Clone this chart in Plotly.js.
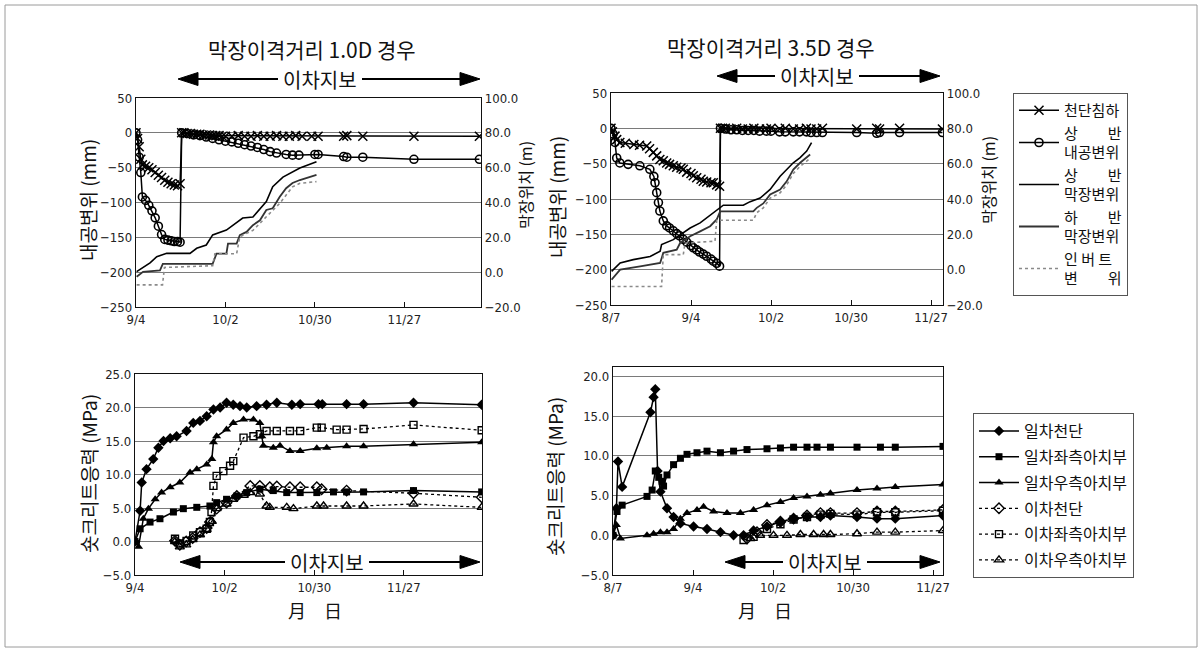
<!DOCTYPE html>
<html>
<head>
<meta charset="utf-8">
<script src="https://cdn.plot.ly/plotly-3.0.1.min.js"></script>
<style>html,body{margin:0;padding:0;background:#fff;}#chart{width:1203px;height:653px;}</style>
</head>
<body>
<div id="chart"></div>
<script>
// ---------------- DATA ----------------
// x values = days since first date of each panel (TL/BL: 9/4, TR/BR: 8/7)
const tlTickVals = [0, 28, 56, 84];
const tlTickText = ['9/4', '10/2', '10/30', '11/27'];
const trTickVals = [0, 28, 56, 84, 112];
const trTickText = ['8/7', '9/4', '10/2', '10/30', '11/27'];

const topNames = ['천단침하', '상　　반<br>내공변위', '상　　반<br>막장변위', '하　　반<br>막장변위', '인 버 트<br>변　　위'];
const botNames = ['일차천단', '일차좌측아치부', '일차우측아치부', '이차천단', '이차좌측아치부', '이차우측아치부'];

// Top-left (1.0D): convergence (mm) and face position (m)
const tlSettleDays = [0,0.5,1,1.5,2,3,4,5,6,7,8,9,10,11,12,13,13.8,14.3,15,16,17,18,19,20,21,22,23,24,25,26,27,28,30,32,34,36,38,40,42,44,46,48,50,52,55,57,65,66,71,87,107.5];
const tlSettle = [0,-8,-20,-38,-46,-48,-50,-53,-57,-61,-64,-68,-71,-73,-75,-76,-73,0,0,-1,-1,-2,-2,-2,-3,-3,-3,-4,-4,-4,-5,-5,-5,-4,-5,-5,-4,-5,-5,-4,-5,-5,-4,-5,-5,-5,-5,-4,-5,-5,-5];
const tlConvDays = [0,0.5,1,1.5,2,3,4,5,6,7,8,9,10,11,12,13,13.8,14.3,16,18,20,22,24,26,28,30,32,34,36,38,40,42,44,47,49,51,56,57,65,66,71,87,107.5];
const tlConv = [0,-10,-35,-57,-92,-97,-104,-112,-122,-134,-146,-153,-154,-155,-156,-156,-157,0,-1,-3,-4,-6,-8,-10,-12,-13,-15,-17,-19,-21,-24,-27,-29,-31,-32,-32,-31,-31,-34,-35,-35,-38,-38];
const tlFaceUpDays = [0.2,4.4,6.5,9.6,16.9,19,22,24,28.3,30.3,33.4,36.6,40.8,42.8,46,51.3,56.5];
const tlFaceUp = [0.3,5.3,8.9,10.8,10.8,13.7,15.6,21.4,24.2,27.1,31.1,31.7,40.5,49.1,54.6,59.8,63.4];
const tlFaceLowDays = [0.2,2.2,7.5,8.4,24,24.7,25.2,28.3,28.8,31.5,32.5,34.6,36.6,38.8,40.8,42.8,45,47,49,51.3,56.5];
const tlFaceLow = [-2.6,0.2,1.0,4.8,4.8,8.6,10.6,10.6,16.4,16.4,21.2,23.1,27,29.8,35.7,36.7,43.3,48.2,51.2,52.9,55.8];
const tlInvertDays = [0.2,8.3,8.9,24,24.7,31.5,32.5,36.6,40.8,45,49,51.3,56.5];
const tlInvert = [-7.3,-7.3,2.7,3.7,10.6,10.6,20.4,24,31.8,39.5,49,51,52];

// Top-right (3.5D)
const trSettleDays = [0,0.5,1.4,2,3.1,5,8,10,12.5,13.5,14.8,16,17.1,18.3,19.5,20.5,21.8,23,24.5,25.3,26.5,28,28.8,30,31.5,32.3,33.5,35,35.8,37,38,38.3,39,40,42,44,46,48,50,52,54.4,56,59,61,63.8,66,68.4,70,72,74,86,93,94,101,116];
const trSettle = [0,-5,-11,-16,-20,-21,-23,-24,-25,-29,-34,-39,-44,-46,-49,-51,-53,-55,-56,-58,-62,-64,-67,-70,-72,-75,-76,-77,-77,-80,-82,0,0,0,-1,0,-1,-1,0,-1,-1,0,-1,0,-1,-1,0,-1,-1,0,-1,0,-1,0,-1];
const trConvDays = [0,0.7,1.4,2,3.1,6,10.1,13.6,15,15.4,16,16.6,17.1,18.3,19.5,20.5,21.8,23,24,25.3,26.5,28,28.8,30,31,32.3,33.5,35,35.8,37,38,38.3,40,42,44,46,48,50,52,54.4,56,59,61,63.8,66,68.4,70,72,74,86,93,94,101,116];
const trConv = [0,-8,-20,-42,-49,-51,-53,-58,-68,-77,-91,-105,-117,-131,-138,-141,-145,-149,-152,-157,-161,-166,-169,-172,-175,-178,-181,-185,-188,-191,-195,0,-1,-2,-2,-3,-3,-3,-4,-4,-4,-5,-5,-5,-5,-5,-6,-6,-6,-6,-7,-6,-6,-6];
const trFaceUpDays = [0.2,3.2,7.8,13.7,17.2,17.7,21.8,25.3,27.7,31.2,35.8,37,39.3,46.3,48.7,52.2,55.7,59.2,61.5,63.8,66.2,68.5,70.2];
const trFaceUp = [-1,3.8,5.7,7.5,10.4,14.2,17,20.8,23.6,26.5,32.2,34,36.5,36.5,38.5,40.5,45.4,52.9,56.7,60.5,63.4,67.1,71.9];
const trFaceLowDays = [0.2,3.2,10.2,17.2,18.3,23,24.2,27.7,31.2,34.7,37,38.2,39.3,49.8,51,53.3,55.7,59.2,61.5,63.8,66.2,68.5,69.7];
const trFaceLow = [-5.7,0,1.9,3.8,9.5,11.3,15.1,18.9,21.7,24.6,28.4,33,33,33,35,37.5,42.6,45.4,50,56.7,60.5,63.4,65.2];
const trInvertDays = [0.2,17.7,18.3,25.3,25.9,36.4,37,49.8,51,53.3,55.7,59.2,61.5,63.8,66.2,68.5,69.7];
const trInvert = [-9.5,-9.5,8.5,8.5,15.1,16.1,28,28,32.2,35,40.5,43.5,48,54.5,58.5,61.5,63];

// Bottom-left (1.0D) shotcrete stress (MPa)
const bl1CrownDays = [0,1.6,2.1,3.6,5.7,7.3,8.9,11,13,16.1,18.2,20.3,22.4,24.5,26.6,28.6,30.7,32.8,34.9,38,41.1,44.3,49,51.6,57.3,58.5,66.1,71.4,87,108.3];
const bl1Crown = [0,4.6,8.8,10.8,12.3,14,15,15.4,15.7,16.5,17.7,18,18.7,19.7,20,20.7,20.4,20.2,20,20.2,20.4,20.7,20.4,20.5,20.5,20.5,20.5,20.5,20.7,20.4];
const bl1LeftDays = [0,1.6,4.7,7.8,12,15.1,19.3,23.4,25.5,28.6,31.8,34.9,39,43.2,47.4,51.6,56.8,62,66.1,71.4,87,108.3];
const bl1Left = [0,1.9,2.9,3.4,4.4,4.9,5.1,5.3,5.8,6.3,6.8,7.3,7.8,7.6,7.3,7.3,7.3,7.4,7.4,7.4,7.6,7.4];
const bl1RightDays = [0,1.1,2.6,4.2,6.3,8.3,11,14,17.2,19.3,22.4,24,24.5,25.5,28.6,30.7,33.9,37,39,39.6,40.1,43.2,45.3,48.4,51.6,56.8,59.9,66.1,71.4,87,108.3];
const bl1Right = [0,-0.8,3.4,4.9,6.3,7.3,8.1,8.8,10.3,10.8,11.5,12.3,14.8,15.7,16.7,17.7,18.2,18.2,17.7,15.7,14.3,14,14.3,13.5,13.5,13.9,14,14.2,14.2,14.5,14.8];
const bl2CrownDays = [12.5,14,16,18,20.3,22.4,23.4,25.5,28.6,31.8,36,39,42.1,44.3,48.4,51.6,56.8,58.3,66.1,87,108.3];
const bl2Crown = [0.1,-0.5,0,0.5,1.4,2,2.9,4.9,5.8,6.8,8.3,8.3,8.1,8.2,8.1,8.1,8.1,7.8,7.6,7.2,6.6];
const bl2LeftDays = [12.5,14.1,16.1,18.2,20.3,22.4,23.4,23.9,24.5,25.5,27.6,29.7,30.7,33.9,37,39,41.1,44.3,48.4,51.6,56.8,58.3,63,66.1,71.4,87,108.3];
const bl2Left = [0.4,-0.3,0.1,0.9,1.4,1.9,2.9,4.4,8.3,9.8,10.5,11.3,12,15.5,15.7,16,16.5,16.5,16.5,16.5,17,17,16.7,16.7,16.8,17.4,16.6];
const bl2RightDays = [12.5,14,16,18,20.3,22.4,24,25.5,28.6,30.7,34,36,39,41.1,42.1,47.4,49.5,56.8,58.9,66.1,71.4,87,108.3];
const bl2Right = [0,-0.8,-0.5,0.3,1,1.8,3,4.9,5.6,6.3,6.9,7.3,7.1,5.3,5.1,5.1,4.9,5.3,5.3,5.3,5.3,5.6,5.1];

// Bottom-right (3.5D)
const br1CrownDays = [0,1.2,1.75,3.2,13.1,14.2,14.8,15.6,16.6,18.9,21.2,23.6,28.2,32.9,37.6,42.2,45.7,49.2,53.9,58.6,63.2,67.9,72.6,76.1,85.4,92.4,98.8,115.5];
const br1Crown = [0,3.4,9.3,6.1,15.5,17.4,18.4,8.1,5.5,3.4,2.3,1.5,1.1,0.8,0.4,0,0,0.6,1.1,1.7,2.1,2.3,2.3,2.5,2.3,2.1,2.1,2.5];
const br1LeftDays = [0,1.4,3.2,11.9,13.7,14.8,16,17.2,17.7,18.9,21.2,23.6,25.9,29.4,32.9,37.6,42.2,46.9,53.9,58.6,63.2,67.9,71.4,76.1,85.4,93.6,98.8,115.5];
const br1Left = [0,3,3.8,4.9,5.7,8.1,7.3,6.8,6.2,7.6,8.9,9.7,10.2,10.4,10.6,10.4,10.6,10.8,10.9,11,11.1,11.1,11.1,11.1,11.1,11.1,11.1,11.2];
const br1RightDays = [0,1.2,2.6,11.9,14.2,16.6,18.9,21.2,23.6,25.9,29.4,31.7,35.2,39.9,44.6,49.2,53.9,58.6,63.2,67.9,72.6,76.1,85.4,92.4,98.8,115.5];
const br1Right = [0,1.3,-0.4,0,0.2,0.4,0.4,0.8,2.1,2.8,3.2,3.6,3,2.8,2.8,3.2,3.8,4.2,4.7,4.9,5.1,5.3,5.7,5.9,6.1,6.4];
const br2CrownDays = [46.9,50.4,53.9,58.6,63.2,67.9,72.6,76.1,85.4,92.4,98.8,115.5];
const br2Crown = [-0.4,0.4,1.3,1.7,2.1,2.5,2.8,2.8,2.8,3,3,3.2];
const br2LeftDays = [45.7,49.2,53.9,58.6,63.2,67.9,72.6,76.1,85.4,92.4,98.8,115.5];
const br2Left = [-0.6,-0.2,0.8,1.4,2,2.3,2.6,2.7,2.6,2.9,2.9,3.1];
const br2RightDays = [48.1,51.5,56.2,60.9,65.6,70.2,73.7,76.1,85.4,92.4,98.8,115.5];
const br2Right = [-0.4,0,0,0,0.1,0.1,0.1,0.1,0.2,0.4,0.4,0.6];

// ---------------- STYLE / LAYOUT ----------------
const W = 1203, H = 653;
const PX = x => x / W, PY = y => 1 - y / H;
const FK = '"Noto Sans CJK KR", "Noto Sans", sans-serif';
const FN = '"Liberation Sans Narrow", "DejaVu Sans Condensed", "Liberation Sans", sans-serif';
const tickFont = {family: FN, size: 13, color: '#222'};

const topStyles = [
  {mode: 'lines+markers', line: {color: '#000', width: 1.5}, marker: {symbol: 'x-thin', size: 9, color: '#000', line: {width: 1.5, color: '#000'}}},
  {mode: 'lines+markers', line: {color: '#000', width: 1.5}, marker: {symbol: 'circle-open', size: 8, color: '#000', line: {width: 1.6}}},
  {mode: 'lines', line: {color: '#000', width: 1.6}},
  {mode: 'lines', line: {color: '#333', width: 1.8}},
  {mode: 'lines', line: {color: '#8a8a8a', width: 1.6, dash: 'dot'}}
];
const botStyles = [
  {mode: 'lines+markers', line: {color: '#000', width: 1.5}, marker: {symbol: 'diamond', size: 8, color: '#000'}},
  {mode: 'lines+markers', line: {color: '#000', width: 1.5}, marker: {symbol: 'square', size: 7, color: '#000'}},
  {mode: 'lines+markers', line: {color: '#000', width: 1.5}, marker: {symbol: 'triangle-up', size: 8, color: '#000'}},
  {mode: 'lines+markers', line: {color: '#000', width: 1.3, dash: '3px,3px'}, marker: {symbol: 'diamond-open', size: 8, color: '#000', line: {width: 1.4}}},
  {mode: 'lines+markers', line: {color: '#000', width: 1.3, dash: '3px,3px'}, marker: {symbol: 'square-open', size: 7, color: '#000', line: {width: 1.4}}},
  {mode: 'lines+markers', line: {color: '#000', width: 1.3, dash: '3px,3px'}, marker: {symbol: 'triangle-up-open', size: 8, color: '#000', line: {width: 1.4}}}
];

function mk(x, y, xa, ya, style, name, legend, show) {
  return Object.assign({type: 'scatter', x: x, y: y, xaxis: xa, yaxis: ya, name: name,
    legend: legend, legendgroup: name, showlegend: show, hoverinfo: 'skip'}, JSON.parse(JSON.stringify(style)));
}

const traces = [];
const tlSets = [[tlSettleDays, tlSettle, 'y'], [tlConvDays, tlConv, 'y'], [tlFaceUpDays, tlFaceUp, 'y2'], [tlFaceLowDays, tlFaceLow, 'y2'], [tlInvertDays, tlInvert, 'y2']];
tlSets.forEach((s, i) => traces.push(mk(s[0], s[1], 'x', s[2], topStyles[i], topNames[i], 'legend', true)));
const trSets = [[trSettleDays, trSettle, 'y3'], [trConvDays, trConv, 'y3'], [trFaceUpDays, trFaceUp, 'y4'], [trFaceLowDays, trFaceLow, 'y4'], [trInvertDays, trInvert, 'y4']];
trSets.forEach((s, i) => traces.push(mk(s[0], s[1], 'x2', s[2], topStyles[i], topNames[i], 'legend', false)));
const blSets = [[bl1CrownDays, bl1Crown], [bl1LeftDays, bl1Left], [bl1RightDays, bl1Right], [bl2CrownDays, bl2Crown], [bl2LeftDays, bl2Left], [bl2RightDays, bl2Right]];
blSets.forEach((s, i) => traces.push(mk(s[0], s[1], 'x3', 'y5', botStyles[i], botNames[i], 'legend2', true)));
const brSets = [[br1CrownDays, br1Crown], [br1LeftDays, br1Left], [br1RightDays, br1Right], [br2CrownDays, br2Crown], [br2LeftDays, br2Left], [br2RightDays, br2Right]];
brSets.forEach((s, i) => traces.push(mk(s[0], s[1], 'x4', 'y6', botStyles[i], botNames[i], 'legend2', false)));

function xAx(l, r, range, vals, text, anchor) {
  return {domain: [PX(l), PX(r)], range: range, anchor: anchor, tickmode: 'array', tickvals: vals, ticktext: text,
    showgrid: false, zeroline: false, showline: true, mirror: true, linecolor: '#111', linewidth: 1.2,
    ticks: 'inside', ticklen: 5, tickcolor: '#111', tickfont: tickFont, fixedrange: true};
}
function yAx(t, b, range, vals, fmt, anchor) {
  return {domain: [PY(b), PY(t)], range: range, anchor: anchor, tickmode: 'array', tickvals: vals, tickformat: fmt,
    showgrid: true, gridcolor: '#7a7a7a', gridwidth: 1, zeroline: false, showline: true, mirror: true,
    linecolor: '#111', linewidth: 1.2, ticks: '', tickfont: tickFont, fixedrange: true};
}
function yRight(range, vals, overlay, anchor) {
  return {range: range, overlaying: overlay, side: 'right', anchor: anchor, tickmode: 'array', tickvals: vals,
    tickformat: '.1f', showgrid: false, zeroline: false, showline: true, linecolor: '#111', linewidth: 1.2,
    ticks: '', tickfont: tickFont, fixedrange: true};
}

const mmTicks = [-250, -200, -150, -100, -50, 0, 50];
const mTicks = [-20, 0, 20, 40, 60, 80, 100];

// arrows "이차지보"
const shapes = [];
const annotations = [];
function arrowBar(xl, xr, y, xc) {
  const half = 42, head = 20, hh = 6.5;
  shapes.push({type: 'line', xref: 'paper', yref: 'paper', x0: PX(xl + head - 2), x1: PX(xc - half), y0: PY(y), y1: PY(y), line: {color: '#000', width: 2.2}});
  shapes.push({type: 'line', xref: 'paper', yref: 'paper', x0: PX(xc + half), x1: PX(xr - head + 2), y0: PY(y), y1: PY(y), line: {color: '#000', width: 2.2}});
  shapes.push({type: 'path', xref: 'paper', yref: 'paper', fillcolor: '#000', line: {color: '#000', width: 1},
    path: `M ${PX(xl)} ${PY(y)} L ${PX(xl + head)} ${PY(y - hh)} L ${PX(xl + head)} ${PY(y + hh)} Z`});
  shapes.push({type: 'path', xref: 'paper', yref: 'paper', fillcolor: '#000', line: {color: '#000', width: 1},
    path: `M ${PX(xr)} ${PY(y)} L ${PX(xr - head)} ${PY(y - hh)} L ${PX(xr - head)} ${PY(y + hh)} Z`});
  annotations.push({xref: 'paper', yref: 'paper', x: PX(xc), y: PY(y), text: '이차지보', showarrow: false,
    xanchor: 'center', yanchor: 'middle', font: {family: FK, size: 20, color: '#111'}});
}
arrowBar(178, 480, 79, 320);
arrowBar(717, 940, 76, 817);
arrowBar(180, 480, 562, 327);
arrowBar(725, 940, 562, 825);

function txt(x, y, text, size, angle) {
  annotations.push({xref: 'paper', yref: 'paper', x: PX(x), y: PY(y), text: text, showarrow: false,
    xanchor: 'center', yanchor: 'middle', textangle: angle || 0, font: {family: FK, size: size, color: '#111'}});
}
txt(312, 49, '막장이격거리 1.0D 경우', 21);
txt(771, 47, '막장이격거리 3.5D 경우', 21);
txt(88, 200, '내공변위 (mm)', 19, -90);
txt(556, 197, '내공변위 (mm)', 19, -90);
txt(525, 185, '막장위치 (m)', 16, -90);
txt(988, 180, '막장위치 (m)', 16, -90);
txt(88, 474, '숏크리트응력 (MPa)', 19, -90);
txt(554, 477, '숏크리트응력 (MPa)', 19, -90);
txt(315, 610, '月　日', 18);
txt(765, 610, '月　日', 18);

// outer border
shapes.push({type: 'rect', xref: 'paper', yref: 'paper', x0: PX(5), x1: PX(1197), y0: PY(647), y1: PY(5), line: {color: '#9a9a9a', width: 1}});

const layout = {
  width: W, height: H, margin: {l: 0, r: 0, t: 0, b: 0},
  paper_bgcolor: '#fff', plot_bgcolor: '#fff',
  font: {family: FK, color: '#111'},
  xaxis: xAx(136, 481, [0, 108], tlTickVals, tlTickText, 'y'),
  yaxis: yAx(98, 307, [-250, 50], mmTicks, 'd', 'x'),
  yaxis2: yRight([-20, 100], mTicks, 'y', 'x'),
  xaxis2: xAx(611, 943, [0, 116.2], trTickVals, trTickText, 'y3'),
  yaxis3: yAx(93, 305, [-250, 50], mmTicks, 'd', 'x2'),
  yaxis4: yRight([-20, 100], mTicks, 'y3', 'x2'),
  xaxis3: xAx(135, 482, [0, 108.4], tlTickVals, tlTickText, 'y5'),
  yaxis5: yAx(374, 575, [-5, 25], [-5, 0, 5, 10, 15, 20, 25], '.1f', 'x3'),
  xaxis4: xAx(613, 943, [0, 115.5], trTickVals, trTickText, 'y6'),
  yaxis6: yAx(367, 575, [-5, 21.2], [-5, 0, 5, 10, 15, 20], '.1f', 'x4'),
  legend: {x: PX(1013), y: PY(93), xanchor: 'left', yanchor: 'top', bordercolor: '#555', borderwidth: 1,
    bgcolor: '#fff', font: {family: FK, size: 15, color: '#111'}, tracegroupgap: 0, itemwidth: 40},
  legend2: {x: PX(973), y: PY(413), xanchor: 'left', yanchor: 'top', bordercolor: '#555', borderwidth: 1,
    bgcolor: '#fff', font: {family: FK, size: 16, color: '#111'}, tracegroupgap: 2, itemwidth: 40},
  shapes: shapes,
  annotations: annotations,
  showlegend: true
};

Plotly.newPlot('chart', traces, layout, {staticPlot: true, displayModeBar: false});
</script>
</body>
</html>
